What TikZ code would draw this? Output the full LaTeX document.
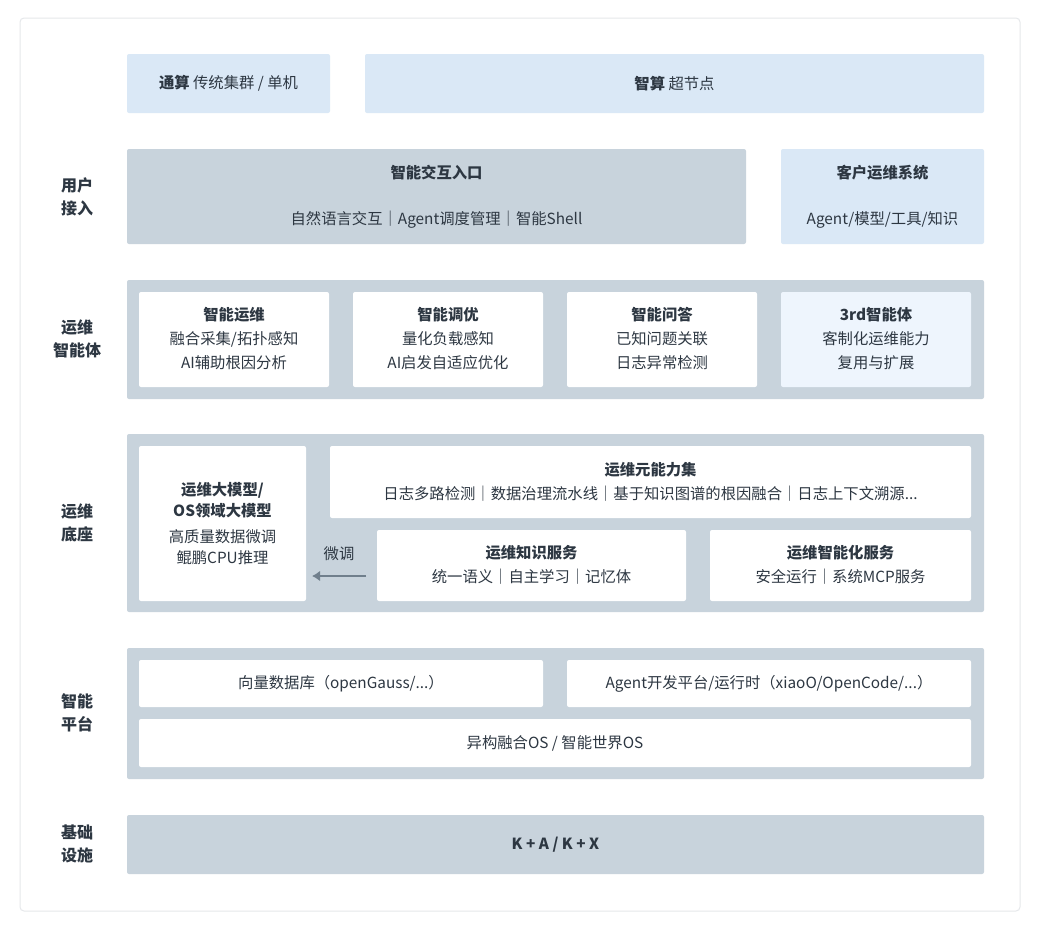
\documentclass[tikz,border=0pt]{standalone}
\usepackage{fontspec}
\usetikzlibrary{arrows.meta}
\setmainfont{Noto Sans CJK SC}
\definecolor{slab}{RGB}{200,211,220}
\definecolor{skyA}{RGB}{218,232,246}
\definecolor{skyB}{RGB}{238,245,253}
\definecolor{ink}{RGB}{45,55,66}
\definecolor{edge}{RGB}{230,232,235}
\definecolor{pipe}{RGB}{112,127,140}
\tikzset{every picture/.style={line width=0.75pt}}
\tikzset{
  blk/.style={draw=none,rounded corners=1.5pt,inner sep=0pt},
  txt/.style={text=ink,font=\fontsize{11.5}{16}\selectfont,align=center,inner sep=0.75pt},
  ttl/.style={txt,font=\fontsize{11.5}{16}\selectfont\bfseries},
  side/.style={txt,font=\fontsize{12}{17}\selectfont\bfseries}
}
\begin{document}
\begin{tikzpicture}[x=0.75pt,y=0.75pt,yscale=-1,xscale=1]
\useasboundingbox (0,0) rectangle (1040,929);
\fill[white] (0,0) rectangle (1040,929);
% card
\draw[edge,fill=white,rounded corners=3pt] (20,18) rectangle (1020,911);

% top row
\filldraw[blk,fill=skyA] (127,54) rectangle (330,113);
\node[txt] (tong) at (228.5,83.5) {\textbf{通算} 传统集群 / 单机};
\filldraw[blk,fill=skyA] (365,54) rectangle (984,113);
\node[txt] (zhi) at (674.5,83.5) {\textbf{智算} 超节点};

% user access
\node[side] (lblUser) at (77,197) {用户\\接入};
\filldraw[blk,fill=slab] (127,149) rectangle (746,244);
\node[ttl] (entry) at (436.5,173) {智能交互入口};
\node[txt] (entrySub) at (436.5,220) {自然语言交互｜Agent调度管理｜智能Shell};
\filldraw[blk,fill=skyA] (781,149) rectangle (984,244);
\node[ttl] (cust) at (882.5,173) {客户运维系统};
\node[txt] (custSub) at (882.5,220) {Agent/模型/工具/知识};

% agents
\node[side] (lblAgent) at (77,339) {运维\\智能体};
\filldraw[blk,fill=slab] (127,280) rectangle (984,399);
\foreach \x/\t/\a/\b/\c in {139/智能运维/{融合采集/拓扑感知}/AI辅助根因分析/white,
  353/智能调优/量化负载感知/AI启发自适应优化/white,
  567/智能问答/已知问题关联/日志异常检测/white,
  781/3rd智能体/客制化运维能力/复用与扩展/skyB}{
  \filldraw[blk,fill=\c] (\x,292) rectangle ++(190,95);
  \node[ttl] at (\x+95,315) {\t};
  \node[txt] at (\x+95,339) {\a};
  \node[txt] at (\x+95,363) {\b};
}

% base
\node[side] (lblBase) at (77,523) {运维\\底座};
\filldraw[blk,fill=slab] (127,434) rectangle (984,612);
\filldraw[blk,fill=white] (139,446) rectangle (306,601);
\node[ttl] (llm) at (222.5,500) {运维大模型/\\OS领域大模型};
\node[txt] (llmSub) at (222.5,547) {高质量数据微调\\鲲鹏CPU推理};
\filldraw[blk,fill=white] (330,446) rectangle (971,518);
\node[ttl] (meta) at (650.5,470) {运维元能力集};
\node[txt] (metaSub) at (650.5,494) {日志多路检测｜数据治理流水线｜基于知识图谱的根因融合｜日志上下文溯源...};
\filldraw[blk,fill=white] (377,530) rectangle (686,601);
\node[ttl] (know) at (531.5,553) {运维知识服务};
\node[txt] (knowSub) at (531.5,577) {统一语义｜自主学习｜记忆体};
\filldraw[blk,fill=white] (710,530) rectangle (971,601);
\node[ttl] (intel) at (840.5,553) {运维智能化服务};
\node[txt] (intelSub) at (840.5,577) {安全运行｜系统MCP服务};
\node[txt] (tune) at (339,554) {微调};
\coordinate (tuneA) at (366,576);
\coordinate (tuneB) at (312,576);
\draw[pipe,line width=2.2pt,-{Latex[length=6pt,width=8pt]}] (tuneA) -- (tuneB);

% platform
\node[side] (lblPlat) at (77,713) {智能\\平台};
\filldraw[blk,fill=slab] (127,648) rectangle (984,779);
\filldraw[blk,fill=white] (139,660) rectangle (543,707);
\node[txt] (vec) at (341,684) {向量数据库（openGauss/...）};
\filldraw[blk,fill=white] (567,660) rectangle (971,707);
\node[txt] (dev) at (769,684) {Agent开发平台/运行时（xiaoO/OpenCode/...）};
\filldraw[blk,fill=white] (139,719) rectangle (971,767);
\node[txt] (os) at (555,743) {异构融合OS / 智能世界OS};

% infra
\node[side] (lblInfra) at (77,844) {基础\\设施};
\filldraw[blk,fill=slab] (127,815) rectangle (984,874);
\node[ttl] (ka) at (555.5,844.5) {K + A / K + X};
\end{tikzpicture}
\end{document}
